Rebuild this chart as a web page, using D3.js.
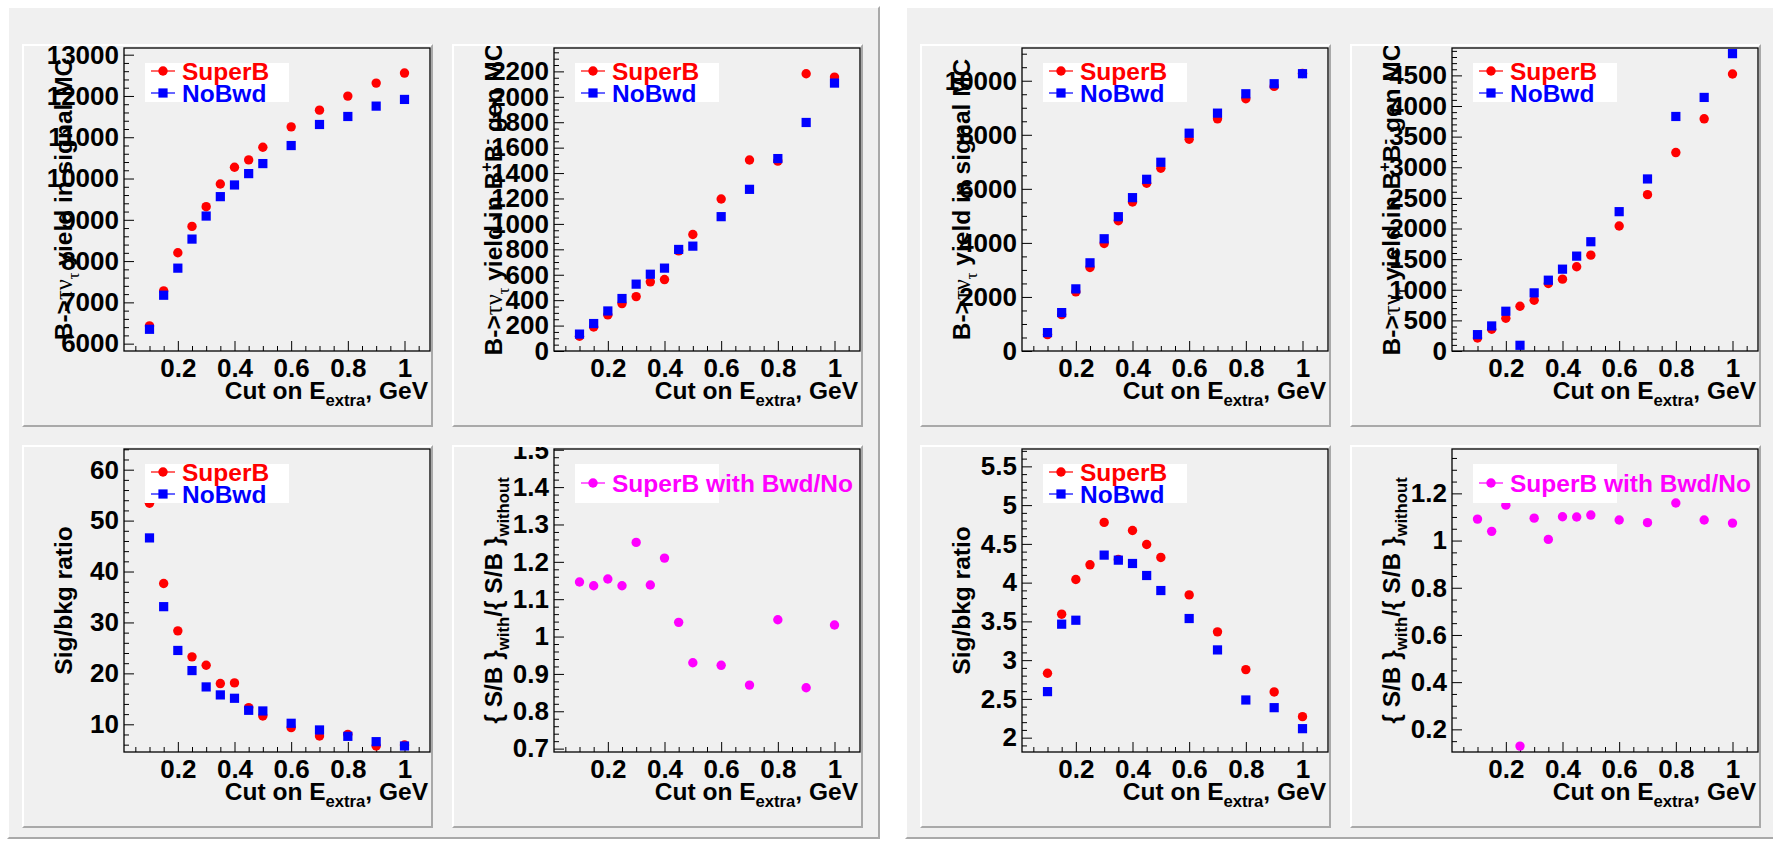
<!DOCTYPE html>
<html>
<head>
<meta charset="utf-8">
<script src="https://cdn.jsdelivr.net/npm/d3@7"></script>
<style>
  html, body { margin: 0; padding: 0; background: #ffffff; }
  svg text { font-family: "Liberation Sans", Arial, Helvetica, sans-serif; font-weight: bold; }
</style>
</head>
<body>
<svg id="chart" width="1773" height="841"></svg>
<script>
// ---- data -------------------------------------------------------------
// Cut on E_extra (GeV)
const eCut = [0.1, 0.15, 0.2, 0.25, 0.3, 0.35, 0.4, 0.45, 0.5, 0.6, 0.7, 0.8, 0.9, 1.0];

// Left canvas
const sigYieldSuperB_L = [6429, 7279, 8201, 8840, 9318, 9868, 10273, 10451, 10758, 11252, 11657, 11997, 12312, 12555];
const sigYieldNoBwd_L  = [6348, 7173, 7829, 8533, 9091, 9561, 9844, 10119, 10362, 10799, 11309, 11503, 11754, 11916];
const bbYieldSuperB_L  = [116, 189, 284, 373, 428, 544, 562, 788, 917, 1196, 1503, 1494, 2181, 2155];
const bbYieldNoBwd_L   = [133, 216, 315, 413, 526, 604, 652, 799, 825, 1057, 1272, 1514, 1798, 2108];
const sbRatioSuperB_L  = [53.4, 37.65, 28.35, 23.24, 21.6, 18.0, 18.13, 13.28, 11.64, 9.34, 7.7, 8.03, 5.74, 5.94];
const sbRatioNoBwd_L   = [46.6, 33.1, 24.5, 20.55, 17.34, 15.77, 15.11, 12.75, 12.62, 10.2, 8.89, 7.64, 6.59, 5.74];
const sbDouble_L       = [1.146, 1.136, 1.154, 1.136, 1.252, 1.138, 1.210, 1.038, 0.930, 0.923, 0.870, 1.045, 0.863, 1.031];

// Right canvas
const sigYieldSuperB_R = [606, 1347, 2188, 3090, 3980, 4821, 5513, 6205, 6761, 7837, 8591, 9333, 9790, 10270];
const sigYieldNoBwd_R  = [680, 1421, 2299, 3263, 4153, 4969, 5674, 6353, 6984, 8059, 8801, 9518, 9889, 10260];
const bbYieldSuperB_R  = [213, 355, 535, 731, 829, 1102, 1173, 1375, 1565, 2040, 2553, 3240, 3791, 4522];
const bbYieldNoBwd_R   = [267, 409, 649, 93, 949, 1156, 1336, 1549, 1784, 2275, 2809, 3829, 4140, 4855];
const sbRatioSuperB_R  = [2.831, 3.593, 4.040, 4.230, 4.777, 4.30, 4.673, 4.492, 4.325, 3.842, 3.365, 2.878, 2.590, 2.271];
const sbRatioNoBwd_R   = [2.594, 3.464, 3.515, 35.1, 4.355, 4.290, 4.247, 4.092, 3.898, 3.537, 3.132, 2.486, 2.387, 2.116];
const sbDouble_R       = [1.091, 1.039, 1.150, 0.129, 1.095, 1.005, 1.101, 1.100, 1.108, 1.087, 1.076, 1.159, 1.087, 1.074];

// Tick labels
const ticksCut          = [0.2, 0.4, 0.6, 0.8, 1];
const ticksSigYield_L   = [6000, 7000, 8000, 9000, 10000, 11000, 12000, 13000];
const ticksBBYield_L    = [0, 200, 400, 600, 800, 1000, 1200, 1400, 1600, 1800, 2000, 2200];
const ticksSbRatio_L    = [10, 20, 30, 40, 50, 60];
const ticksDouble_L     = [0.7, 0.8, 0.9, 1.0, 1.1, 1.2, 1.3, 1.4, 1.5];
const ticksSigYield_R   = [0, 2000, 4000, 6000, 8000, 10000];
const ticksBBYield_R    = [0, 500, 1000, 1500, 2000, 2500, 3000, 3500, 4000, 4500];
const ticksSbRatio_R    = [2, 2.5, 3, 3.5, 4, 4.5, 5, 5.5];
const ticksDouble_R     = [0.2, 0.4, 0.6, 0.8, 1.0, 1.2];

// Legend labels
const legendSeries = ["SuperB", "NoBwd"];
const legendDouble = ["SuperB with Bwd/No"];

// ---- styling / geometry ----------------------------------------------
const RED = "#ff0000", BLUE = "#0000ff", MAGENTA = "#ff00ff";
const BG = "#f0f0f0", LIGHT = "#ffffff", DARK = "#a9a9a9";
const TICK_FS = 26, TITLE_FS = 24.5, LEG_FS = 24.5;
const CANVAS_W = 873, CANVAS_H = 833;
const PAD_W = 411, PAD_H = 383;
const M = { left: 102, right: 3, top: 4, bottom: 76 };
const X_DOMAIN = [0.01, 1.09];
const GREEK_FONT = '"Liberation Serif", "DejaVu Serif", serif';

const svg = d3.select("#chart");
const defs = svg.append("defs");

function bevelBox(g, x, y, w, h, bw) {
  g.append("rect").attr("x", x).attr("y", y).attr("width", w).attr("height", h).attr("fill", BG);
  g.append("path")
    .attr("d", `M${x},${y + h}L${x},${y}L${x + w},${y}L${x + w - bw},${y + bw}L${x + bw},${y + bw}L${x + bw},${y + h - bw}Z`)
    .attr("fill", LIGHT);
  g.append("path")
    .attr("d", `M${x + w},${y}L${x + w},${y + h}L${x},${y + h}L${x + bw},${y + h - bw}L${x + w - bw},${y + h - bw}L${x + w - bw},${y + bw}Z`)
    .attr("fill", DARK);
}

// Text with sub/superscripts and greek pieces
function rich(text, parts, fs) {
  let shift = 0;
  parts.forEach(p => {
    const target = p.sub ? fs * 0.3 : p.sup ? -fs * 0.4 : 0;
    const ts = text.append("tspan").text(p.t).attr("dy", target - shift);
    shift = target;
    if (p.sub || p.sup) ts.attr("font-size", fs * 0.68);
    if (p.greek) ts.attr("font-family", GREEK_FONT).attr("font-weight", "normal");
  });
}

const titleCut = [{ t: "Cut on E" }, { t: "extra", sub: true }, { t: ", GeV" }];
const titleSigYield = [{ t: "B->" }, { t: "τν", greek: true }, { t: "τ", greek: true, sub: true }, { t: " yield in signal MC" }];
const titleBBYield = [{ t: "B->" }, { t: "τν", greek: true }, { t: "τ", greek: true, sub: true }, { t: " yield in B" }, { t: "+", sup: true }, { t: "B" }, { t: "-", sup: true }, { t: " gen MC" }];
const titleSbRatio = [{ t: "Sig/bkg ratio" }];
const titleDouble = [{ t: "{ S/B }" }, { t: "with", sub: true }, { t: "/{ S/B }" }, { t: "without", sub: true }];

function minorTicks(domain, step, majors) {
  const lo = Math.ceil(domain[0] / step - 1e-9), hi = Math.floor(domain[1] / step + 1e-9);
  return d3.range(lo, hi + 1).map(i => +(i * step).toFixed(6))
    .filter(v => !majors.some(m => Math.abs(m - v) < step * 1e-3));
}

let clipCount = 0;
function drawPad(px, py, cfg) {
  const g = svg.append("g").attr("transform", `translate(${px},${py})`);
  g.append("rect").attr("width", PAD_W).attr("height", PAD_H).attr("fill", BG);

  const cid = "padclip" + (clipCount++);
  defs.append("clipPath").attr("id", cid)
    .append("rect").attr("x", 2).attr("y", 2).attr("width", PAD_W - 4).attr("height", PAD_H - 4);
  const body = g.append("g").attr("clip-path", `url(#${cid})`);

  const x0 = M.left, x1 = PAD_W - M.right, y0 = M.top, y1 = PAD_H - M.bottom;
  const x = d3.scaleLinear().domain(X_DOMAIN).range([x0, x1]);
  const y = d3.scaleLinear().domain(cfg.yDomain).range([y1, y0]);

  // frame
  body.append("rect").attr("x", x0).attr("y", y0).attr("width", x1 - x0).attr("height", y1 - y0)
    .attr("fill", "none").attr("stroke", "#000").attr("stroke-width", 1.3);

  // x axis
  const fmt = d3.format("~g");
  const gx = body.append("g").attr("transform", `translate(0,${y1})`)
    .call(d3.axisBottom(x).tickValues(ticksCut).tickSize(-10).tickPadding(7.5).tickFormat(fmt));
  body.append("g").attr("transform", `translate(0,${y1})`)
    .call(d3.axisBottom(x).tickValues(minorTicks(X_DOMAIN, 0.05, ticksCut)).tickSize(-5).tickFormat(""));
  // y axis
  const gy = body.append("g").attr("transform", `translate(${x0},0)`)
    .call(d3.axisLeft(y).tickValues(cfg.yTicks).tickSize(-10).tickPadding(5).tickFormat(fmt));
  body.append("g").attr("transform", `translate(${x0},0)`)
    .call(d3.axisLeft(y).tickValues(minorTicks(cfg.yDomain, cfg.yMinor, cfg.yTicks)).tickSize(-5).tickFormat(""));
  body.selectAll(".domain").remove();
  body.selectAll(".tick line").attr("stroke", "#000").attr("stroke-width", 1);
  [gx, gy].forEach(a => a.selectAll("text")
    .attr("font-size", TICK_FS).attr("fill", "#000")
    .attr("font-family", '"Liberation Sans", Arial, sans-serif').attr("font-weight", "bold"));

  // axis titles
  const xt = body.append("text").attr("x", x1 - 2).attr("y", y1 + 48)
    .attr("text-anchor", "end").attr("font-size", TITLE_FS).attr("fill", "#000");
  rich(xt, titleCut, TITLE_FS);
  const yt = body.append("text")
    .attr("transform", `translate(${x0 - 52},${(y0 + y1) / 2}) rotate(-90)`)
    .attr("text-anchor", "middle").attr("font-size", TITLE_FS).attr("fill", "#000");
  rich(yt, cfg.yTitle, TITLE_FS);

  // data points
  cfg.series.forEach(s => {
    const pts = eCut.map((c, i) => ({ c, v: s.values[i] }))
      .filter(d => d.v >= cfg.yDomain[0] && d.v <= cfg.yDomain[1]);
    if (s.marker === "circle") {
      body.append("g").selectAll("circle").data(pts).join("circle")
        .attr("cx", d => x(d.c)).attr("cy", d => y(d.v)).attr("r", 4.7).attr("fill", s.color);
    } else {
      body.append("g").selectAll("rect").data(pts).join("rect")
        .attr("x", d => x(d.c) - 4.6).attr("y", d => y(d.v) - 4.6)
        .attr("width", 9.2).attr("height", 9.2).attr("fill", s.color);
    }
  });

  // legend
  const lg = body.append("g").attr("transform", `translate(${x0},${y0})`);
  lg.append("rect").attr("x", 21).attr("y", 15).attr("width", 144).attr("height", 39).attr("fill", "#ffffff");
  const rows = cfg.series.length === 1 ? [34] : [23, 45];
  cfg.series.forEach((s, i) => {
    const cy = rows[i];
    lg.append("line").attr("x1", 27).attr("x2", 51).attr("y1", cy).attr("y2", cy)
      .attr("stroke", s.color).attr("stroke-width", 1.2);
    if (s.marker === "circle") {
      lg.append("circle").attr("cx", 39).attr("cy", cy).attr("r", 4.7).attr("fill", s.color);
    } else {
      lg.append("rect").attr("x", 39 - 4.6).attr("y", cy - 4.6).attr("width", 9.2).attr("height", 9.2).attr("fill", s.color);
    }
    lg.append("text").attr("x", 58).attr("y", cy).attr("dy", "0.35em")
      .attr("font-size", LEG_FS).attr("fill", s.color).text(s.label);
  });

  // pad bevel
  g.append("path")
    .attr("d", `M0,${PAD_H}L0,0L${PAD_W},0L${PAD_W - 2},2L2,2L2,${PAD_H - 2}Z`).attr("fill", LIGHT);
  g.append("path")
    .attr("d", `M${PAD_W},0L${PAD_W},${PAD_H}L0,${PAD_H}L2,${PAD_H - 2}L${PAD_W - 2},${PAD_H - 2}L${PAD_W - 2},2Z`).attr("fill", DARK);
}

function drawCanvas(cx, cy, sets) {
  bevelBox(svg, cx, cy, CANVAS_W, CANVAS_H, 2);
  const slots = [[15, 38], [445, 38], [15, 439], [445, 439]];
  sets.forEach((cfg, i) => drawPad(cx + slots[i][0], cy + slots[i][1], cfg));
}

const two = (a, b) => [
  { values: a, color: RED, marker: "circle", label: legendSeries[0] },
  { values: b, color: BLUE, marker: "square", label: legendSeries[1] }
];
const one = a => [{ values: a, color: MAGENTA, marker: "circle", label: legendDouble[0] }];

drawCanvas(7, 6, [
  { yDomain: [5822, 13162], yTicks: ticksSigYield_L, yMinor: 200, yTitle: titleSigYield, series: two(sigYieldSuperB_L, sigYieldNoBwd_L) },
  { yDomain: [0, 2384], yTicks: ticksBBYield_L, yMinor: 50, yTitle: titleBBYield, series: two(bbYieldSuperB_L, bbYieldNoBwd_L) },
  { yDomain: [4.56, 64.06], yTicks: ticksSbRatio_L, yMinor: 2, yTitle: titleSbRatio, series: two(sbRatioSuperB_L, sbRatioNoBwd_L) },
  { yDomain: [0.691, 1.502], yTicks: ticksDouble_L, yMinor: 0.02, yTitle: titleDouble, series: one(sbDouble_L) }
]);

drawCanvas(905, 6, [
  { yDomain: [0, 11211], yTicks: ticksSigYield_R, yMinor: 500, yTitle: titleSigYield, series: two(sigYieldSuperB_R, sigYieldNoBwd_R) },
  { yDomain: [0, 4947], yTicks: ticksBBYield_R, yMinor: 100, yTitle: titleBBYield, series: two(bbYieldSuperB_R, bbYieldNoBwd_R) },
  { yDomain: [1.815, 5.724], yTicks: ticksSbRatio_R, yMinor: 0.1, yTitle: titleSbRatio, series: two(sbRatioSuperB_R, sbRatioNoBwd_R) },
  { yDomain: [0.104, 1.388], yTicks: ticksDouble_R, yMinor: 0.05, yTitle: titleDouble, series: one(sbDouble_R) }
]);
</script>
</body>
</html>
